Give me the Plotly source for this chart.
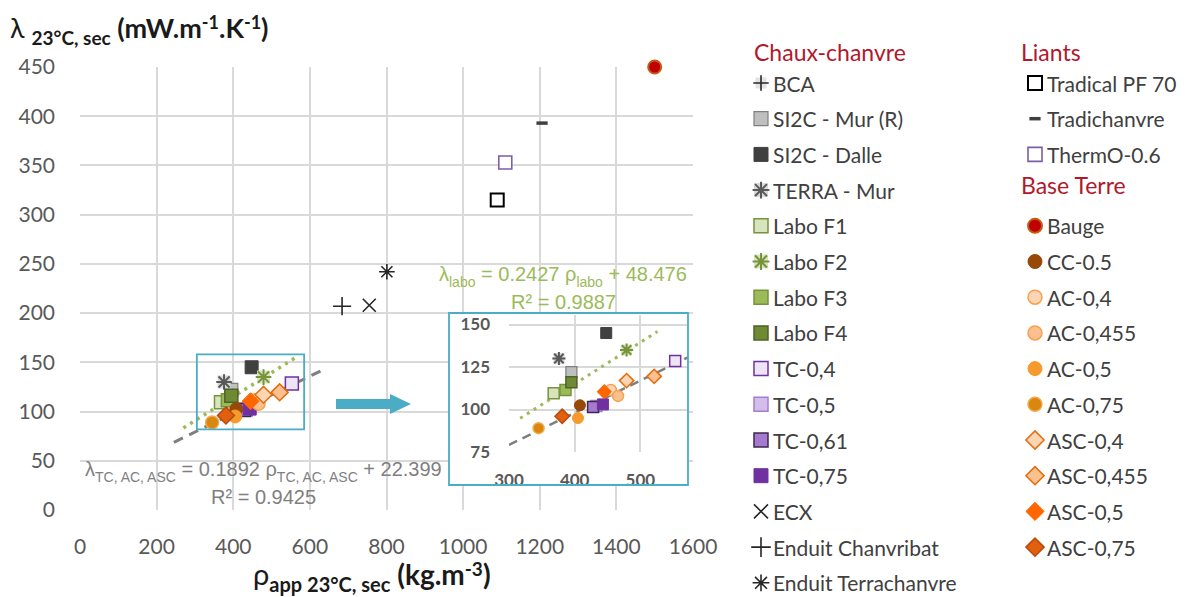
import plotly.graph_objects as go

W, H = 1187, 597

# ---------------- data (rho in kg/m3, lambda in mW/m/K) ----------------
BCA_RHO, BCA_LAMBDA = [], []
SI2C_MUR_RHO, SI2C_MUR_LAMBDA = [395], [122]
SI2C_DALLE_RHO, SI2C_DALLE_LAMBDA = [448], [145]
TERRA_MUR_RHO, TERRA_MUR_LAMBDA = [376], [130]
LABO_F1_RHO, LABO_F1_LAMBDA = [368], [109.5]
LABO_F2_RHO, LABO_F2_LAMBDA = [479], [135]
LABO_F3_RHO, LABO_F3_LAMBDA = [386], [111.5]
LABO_F4_RHO, LABO_F4_LAMBDA = [395], [116]
TC_04_RHO, TC_04_LAMBDA = [553], [128.5]
TC_05_RHO, TC_05_LAMBDA = [433], [102]
TC_061_RHO, TC_061_LAMBDA = [428], [101.5]
TC_075_RHO, TC_075_LAMBDA = [443], [103]
ECX_RHO, ECX_LAMBDA = [755], [208]
CHANVRIBAT_RHO, CHANVRIBAT_LAMBDA = [684], [207]
TERRACHANVRE_RHO, TERRACHANVRE_LAMBDA = [801], [242]
TRADICAL_RHO, TRADICAL_LAMBDA = [1089], [315]
TRADICHANVRE_RHO, TRADICHANVRE_LAMBDA = [1206], [393]
THERMO_RHO, THERMO_LAMBDA = [1110], [353]
BAUGE_RHO, BAUGE_LAMBDA = [1500], [450]
CC_05_RHO, CC_05_LAMBDA = [408], [102.5]
AC_04_RHO, AC_04_LAMBDA = [455], [111.5]
AC_0455_RHO, AC_0455_LAMBDA = [466], [108]
AC_05_RHO, AC_05_LAMBDA = [405], [95]
AC_075_RHO, AC_075_LAMBDA = [345], [89]
ASC_04_RHO, ASC_04_LAMBDA = [479], [117]
ASC_0455_RHO, ASC_0455_LAMBDA = [521], [119.5]
ASC_05_RHO, ASC_05_LAMBDA = [445], [110.5]
ASC_075_RHO, ASC_075_LAMBDA = [381], [96]

# trend lines: [slope, intercept] and rho extent as drawn
TREND_TC_AC_ASC = [0.1892, 22.399]
TREND_LABO = [0.244, 17.5]
TREND_TC_AC_ASC_SPAN_MAIN = [245, 640]
TREND_LABO_SPAN_MAIN = [270, 570]
TREND_TC_AC_ASC_SPAN_INSET = [300, 600]
TREND_LABO_SPAN_INSET = [317, 526]

MAIN_X_TICKS = [0, 200, 400, 600, 800, 1000, 1200, 1400, 1600]
MAIN_Y_TICKS = [0, 50, 100, 150, 200, 250, 300, 350, 400, 450]
INSET_X_TICKS = [300, 400, 500]
INSET_Y_TICKS = [75, 100, 125, 150]

SERIES = [
    ("BCA", BCA_RHO, BCA_LAMBDA),
    ("SI2C - Mur (R)", SI2C_MUR_RHO, SI2C_MUR_LAMBDA),
    ("SI2C - Dalle", SI2C_DALLE_RHO, SI2C_DALLE_LAMBDA),
    ("TERRA - Mur", TERRA_MUR_RHO, TERRA_MUR_LAMBDA),
    ("Labo F1", LABO_F1_RHO, LABO_F1_LAMBDA),
    ("Labo F2", LABO_F2_RHO, LABO_F2_LAMBDA),
    ("Labo F3", LABO_F3_RHO, LABO_F3_LAMBDA),
    ("Labo F4", LABO_F4_RHO, LABO_F4_LAMBDA),
    ("TC-0,4", TC_04_RHO, TC_04_LAMBDA),
    ("TC-0,5", TC_05_RHO, TC_05_LAMBDA),
    ("TC-0,61", TC_061_RHO, TC_061_LAMBDA),
    ("TC-0,75", TC_075_RHO, TC_075_LAMBDA),
    ("ECX", ECX_RHO, ECX_LAMBDA),
    ("Enduit Chanvribat", CHANVRIBAT_RHO, CHANVRIBAT_LAMBDA),
    ("Enduit Terrachanvre", TERRACHANVRE_RHO, TERRACHANVRE_LAMBDA),
    ("Tradical PF 70", TRADICAL_RHO, TRADICAL_LAMBDA),
    ("Tradichanvre", TRADICHANVRE_RHO, TRADICHANVRE_LAMBDA),
    ("ThermO-0.6", THERMO_RHO, THERMO_LAMBDA),
    ("Bauge", BAUGE_RHO, BAUGE_LAMBDA),
    ("CC-0.5", CC_05_RHO, CC_05_LAMBDA),
    ("AC-0,4", AC_04_RHO, AC_04_LAMBDA),
    ("AC-0,455", AC_0455_RHO, AC_0455_LAMBDA),
    ("AC-0,5", AC_05_RHO, AC_05_LAMBDA),
    ("AC-0,75", AC_075_RHO, AC_075_LAMBDA),
    ("ASC-0,4", ASC_04_RHO, ASC_04_LAMBDA),
    ("ASC-0,455", ASC_0455_RHO, ASC_0455_LAMBDA),
    ("ASC-0,5", ASC_05_RHO, ASC_05_LAMBDA),
    ("ASC-0,75", ASC_075_RHO, ASC_075_LAMBDA),
]

LEGEND_COL1 = [("h", "Chaux-chanvre"), ("i", "BCA"), ("i", "SI2C - Mur (R)"), ("i", "SI2C - Dalle"),
               ("i", "TERRA - Mur"), ("i", "Labo F1"), ("i", "Labo F2"), ("i", "Labo F3"),
               ("i", "Labo F4"), ("i", "TC-0,4"), ("i", "TC-0,5"), ("i", "TC-0,61"),
               ("i", "TC-0,75"), ("i", "ECX"), ("i", "Enduit Chanvribat"), ("i", "Enduit Terrachanvre")]
LEGEND_COL2 = [("h", "Liants"), ("i", "Tradical PF 70"), ("i", "Tradichanvre"), ("i", "ThermO-0.6"),
               ("h", "Base Terre"), ("i", "Bauge"), ("i", "CC-0.5"), ("i", "AC-0,4"), ("i", "AC-0,455"),
               ("i", "AC-0,5"), ("i", "AC-0,75"), ("i", "ASC-0,4"), ("i", "ASC-0,455"),
               ("i", "ASC-0,5"), ("i", "ASC-0,75")]

# ---------------- styles ----------------
STYLE = {
    "BCA": dict(symbol="cross-thin-open", color="#262626", lw=1.6, bg="#E3E3E3", size=11),
    "SI2C - Mur (R)": dict(symbol="square", color="#BFBFBF", line="#7F7F7F", lw=1.2),
    "SI2C - Dalle": dict(symbol="square", color="#404040", line="#404040", lw=1),
    "TERRA - Mur": dict(symbol="asterisk-open", color="#595959", lw=2, bg="#D9D9D9"),
    "Labo F1": dict(symbol="square", color="#D7E4BD", line="#77933C", lw=1.5),
    "Labo F2": dict(symbol="asterisk-open", color="#77933C", lw=2, bg="#D7E4BD"),
    "Labo F3": dict(symbol="square", color="#9BBB59", line="#77933C", lw=1.5),
    "Labo F4": dict(symbol="square", color="#6E8B34", line="#4F6228", lw=1.5),
    "TC-0,4": dict(symbol="square", color="#EDE4F5", line="#7030A0", lw=1.5),
    "TC-0,5": dict(symbol="square", color="#D4BDEB", line="#A47FCF", lw=1.5),
    "TC-0,61": dict(symbol="square", color="#A57ACF", line="#3B2A4D", lw=1.5),
    "TC-0,75": dict(symbol="square", color="#7030A0", line="#7030A0", lw=1),
    "ECX": dict(symbol="x-thin-open", color="#262626", lw=1.6),
    "Enduit Chanvribat": dict(symbol="cross-thin-open", color="#262626", lw=1.6),
    "Enduit Terrachanvre": dict(symbol="asterisk-open", color="#262626", lw=1.6),
    "Tradical PF 70": dict(symbol="square", color="#FFFFFF", line="#000000", lw=2),
    "Tradichanvre": dict(symbol="line-ew-open", color="#404040", lw=3.5, size=8),
    "ThermO-0.6": dict(symbol="square", color="#FFFFFF", line="#7D5CA8", lw=1.6),
    "Bauge": dict(symbol="circle", color="#C00000", line="#C55A11", lw=2),
    "CC-0.5": dict(symbol="circle", color="#984807", line="#984807", lw=1),
    "AC-0,4": dict(symbol="circle", color="#FCD5B5", line="#F7A14D", lw=1.5),
    "AC-0,455": dict(symbol="circle", color="#FAC090", line="#F7A14D", lw=1.5),
    "AC-0,5": dict(symbol="circle", color="#F79A2E", line="#F79A2E", lw=1),
    "AC-0,75": dict(symbol="circle", color="#D9870F", line="#F3AA4E", lw=1.5),
    "ASC-0,4": dict(symbol="diamond", color="#FCD5B5", line="#E46C0A", lw=1.5),
    "ASC-0,455": dict(symbol="diamond", color="#FAC090", line="#E46C0A", lw=1.5),
    "ASC-0,5": dict(symbol="diamond", color="#FF6600", line="#FF6600", lw=1),
    "ASC-0,75": dict(symbol="diamond", color="#E0600F", line="#B94A0A", lw=1.5),
}

GRID = "#D9D9D9"
TICK_COLOR = "#595959"
TEAL = "#4BACC6"
GRAY_TREND = "#7F7F7F"
GREEN_TREND = "#9BBB59"


def span(text, size, shift=0, bold=False):
    style = f"font-size:{size}px"
    if bold:
        style += ";font-weight:bold"
    if shift:
        style += f";baseline-shift:{shift}px"
    return f'<span style="{style}">{text}</span>'


LABEL_LABO = [
    span("λ", 20) + span("labo", 14, -6) + span(" = 0.2427 ρ", 20) + span("labo", 14, -6) + span(" + 48.476", 20),
    span("R² = 0.9887", 20),
]
LABEL_TC = [
    span("λ", 20) + span("TC, AC, ASC", 14, -6) + span(" = 0.1892 ρ", 20) + span("TC, AC, ASC", 14, -6)
    + span(" + 22.399", 20),
    span("R² = 0.9425", 20),
]
Y_TITLE = (span("λ ", 27) + span("23°C, sec", 19, -7, True) + span(" (mW.m", 27, 0, True)
           + span("-1", 18, 9, True) + span(".K", 27, 0, True) + span("-1", 18, 9, True) + span(")", 27, 0, True))
X_TITLE = (span("ρ", 29) + span("app 23°C, sec", 20, -7, True) + span(" (kg.m", 28, 0, True)
           + span("-3", 19, 9, True) + span(")", 28, 0, True))


def fx(p):
    return p / W


def fy(p):
    return 1 - p / H


fig = go.Figure()


def add_marks(name, xs, ys, xa, ya, size, clip=True):
    st = STYLE[name]
    sz = st.get("size", size)
    if "bg" in st:
        fig.add_trace(go.Scatter(x=xs, y=ys, xaxis=xa, yaxis=ya, mode="markers", showlegend=False,
                                 hoverinfo="skip", cliponaxis=clip,
                                 marker=dict(symbol="square", size=sz, color=st["bg"], line=dict(width=0))))
    if st["symbol"].endswith("-open"):
        marker = dict(symbol=st["symbol"], size=sz, color=st["color"],
                      line=dict(width=st["lw"], color=st["color"]))
    else:
        marker = dict(symbol=st["symbol"], size=sz, color=st["color"],
                      line=dict(width=st["lw"], color=st["line"]))
    fig.add_trace(go.Scatter(x=xs, y=ys, xaxis=xa, yaxis=ya, mode="markers", name=name,
                             showlegend=False, cliponaxis=clip, marker=marker))


def add_trend(coef, span_, xa, ya, color, dash, width):
    xs = list(span_)
    ys = [coef[0] * v + coef[1] for v in xs]
    fig.add_trace(go.Scatter(x=xs, y=ys, xaxis=xa, yaxis=ya, mode="lines", showlegend=False,
                             hoverinfo="skip", line=dict(color=color, dash=dash, width=width)))


# ---- main chart ----
add_trend(TREND_TC_AC_ASC, TREND_TC_AC_ASC_SPAN_MAIN, "x", "y", GRAY_TREND, "10px,7px", 3)
add_trend(TREND_LABO, TREND_LABO_SPAN_MAIN, "x", "y", GREEN_TREND, "3px,5px", 3.5)
for name, xs, ys in SERIES:
    add_marks(name, xs, ys, "x", "y", 13, clip=False)

# ---- inset background subplot (white) ----
fig.add_trace(go.Scatter(x=[None], y=[None], xaxis="x2", yaxis="y2", mode="markers",
                         showlegend=False, hoverinfo="skip"))

# ---- inset zoom ----
add_trend(TREND_TC_AC_ASC, TREND_TC_AC_ASC_SPAN_INSET, "x3", "y3", GRAY_TREND, "9px,6px", 2.5)
add_trend(TREND_LABO, TREND_LABO_SPAN_INSET, "x3", "y3", GREEN_TREND, "3px,5px", 3)
for name, xs, ys in SERIES:
    add_marks(name, xs, ys, "x3", "y3", 11)

# ---- legend (drawn on a hidden pixel-like axis) ----
ROW0, ROW_STEP = 83, 35.7
annotations = []


def legend_column(entries, marker_x, text_x, header_x):
    row = 0
    for kind, label in entries:
        if kind == "h":
            y = 52 if row == 0 else ROW0 + ROW_STEP * row - 5
            annotations.append(dict(x=fx(header_x), y=fy(y), xref="paper", yref="paper", text=label,
                                    showarrow=False, xanchor="left", yanchor="middle",
                                    font=dict(family="Lato", size=23, color="#B2182B")))
            if row > 0:
                row += 1
        else:
            y = ROW0 + ROW_STEP * row
            add_marks(label, [marker_x], [y], "x4", "y4", 14, clip=False)
            annotations.append(dict(x=fx(text_x), y=fy(y), xref="paper", yref="paper", text=label,
                                    showarrow=False, xanchor="left", yanchor="middle",
                                    font=dict(family="Lato", size=21, color="#404040")))
            row += 1


legend_column(LEGEND_COL1, 761, 771, 752)
legend_column(LEGEND_COL2, 1035, 1045, 1019)


# ---- text annotations ----
def eq_lines(lines, cx, ys, color):
    for txt, yy in zip(lines, ys):
        annotations.append(dict(x=fx(cx), y=fy(yy), xref="paper", yref="paper", text=txt, showarrow=False,
                                xanchor="center", yanchor="middle",
                                font=dict(family="Liberation Sans", size=20, color=color)))


eq_lines(LABEL_LABO, 563, [276, 302], GREEN_TREND)
eq_lines(LABEL_TC, 263, [471, 497], GRAY_TREND)

annotations += [
    dict(x=fx(8), y=fy(30), xref="paper", yref="paper", text=Y_TITLE,
         showarrow=False, xanchor="left", yanchor="middle",
         font=dict(family="Lato", size=27, color="#1A1A1A")),
    dict(x=fx(372), y=fy(576), xref="paper", yref="paper", text=X_TITLE,
         showarrow=False, xanchor="center", yanchor="middle",
         font=dict(family="Lato", size=28, color="#1A1A1A")),
]


# ---- shapes: inset frame, zoom box, arrow ----
def arrow_path(x0, x1, xh, yc, hb, hh):
    pts = [(x0, yc - hb), (xh, yc - hb), (xh, yc - hh), (x1, yc), (xh, yc + hh), (xh, yc + hb), (x0, yc + hb)]
    return "M " + " L ".join(f"{fx(a):.5f},{fy(b):.5f}" for a, b in pts) + " Z"


shapes = [
    dict(type="rect", xref="x", yref="y", x0=305, x1=585, y0=82, y1=158,
         line=dict(color=TEAL, width=1.8), fillcolor="rgba(0,0,0,0)", layer="above"),
    dict(type="rect", xref="paper", yref="paper", x0=fx(449), x1=fx(688), y0=fy(485), y1=fy(313),
         line=dict(color=TEAL, width=1.8), fillcolor="rgba(0,0,0,0)", layer="above"),
    dict(type="path", xref="paper", yref="paper", path=arrow_path(336, 411, 390, 404, 5, 10),
         fillcolor=TEAL, line=dict(width=0), layer="above"),
]

axis_common = dict(showgrid=True, gridcolor=GRID, gridwidth=1.5, zeroline=False, showline=False,
                   ticks="", fixedrange=True, automargin=False)
hidden = dict(visible=False, fixedrange=True, automargin=False, showgrid=False, zeroline=False)

fig.update_layout(
    width=W, height=H, margin=dict(l=0, r=0, t=0, b=0, autoexpand=False),
    paper_bgcolor="white", plot_bgcolor="white", showlegend=False,
    xaxis=dict(domain=[fx(80), fx(693)], range=[0, 1600], tickvals=MAIN_X_TICKS, anchor="y",
               tickfont=dict(family="Lato", size=21, color=TICK_COLOR), ticklabelstandoff=22, **axis_common),
    yaxis=dict(domain=[fy(510), fy(67)], range=[0, 450], tickvals=MAIN_Y_TICKS, anchor="x",
               tickfont=dict(family="Lato", size=21, color=TICK_COLOR), ticklabelstandoff=24, **axis_common),
    xaxis2=dict(domain=[fx(449), fx(688)], range=[0, 1], anchor="y2", **hidden),
    yaxis2=dict(domain=[fy(485), fy(313)], range=[0, 1], anchor="x2", **hidden),
    xaxis3=dict(domain=[fx(509), fx(688)], range=[300, 572.5], tickvals=INSET_X_TICKS, anchor="y3",
                tickfont=dict(family="Lato", size=17, color=TICK_COLOR, weight="bold"),
                ticklabelstandoff=16, **axis_common),
    yaxis3=dict(domain=[fy(452), fy(315)], range=[75, 155.6], tickvals=INSET_Y_TICKS, anchor="x3",
                tickfont=dict(family="Lato", size=17, color=TICK_COLOR, weight="bold"),
                ticklabelstandoff=18, **axis_common),
    xaxis4=dict(domain=[fx(705), 1], range=[705, 1187], anchor="y4", **hidden),
    yaxis4=dict(domain=[0, 1], range=[597, 0], anchor="x4", **hidden),
    annotations=annotations,
    shapes=shapes,
)

fig.write_html("out.html", config={"displayModeBar": False},
               post_script="document.body.style.margin='0';document.body.style.overflow='hidden';")
